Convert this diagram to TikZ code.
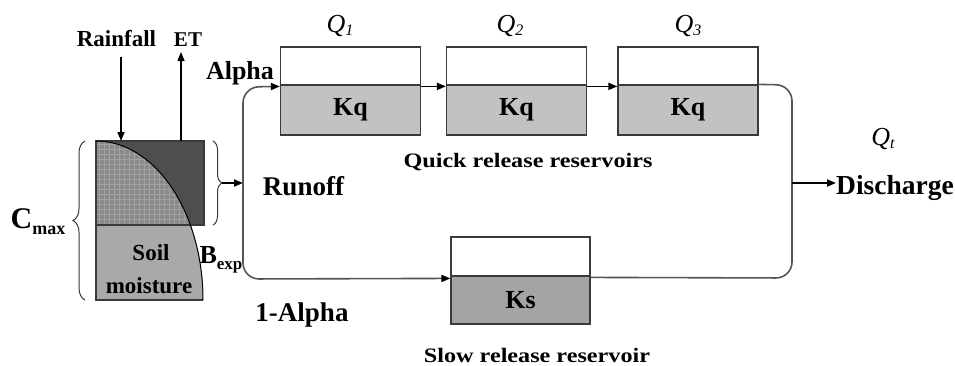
\documentclass[tikz,border=0pt]{standalone}
\usepackage{fontspec}
\setmainfont{Liberation Serif}
\usetikzlibrary{arrows.meta,decorations.pathreplacing,calc}
\definecolor{boxline}{HTML}{3A3A3A}
\definecolor{connline}{HTML}{555555}
\definecolor{kqfill}{HTML}{C2C2C2}
\definecolor{ksfill}{HTML}{A4A4A4}
\definecolor{darkfill}{HTML}{4E4E4E}
\definecolor{hatchfill}{HTML}{8A8A8A}
\definecolor{gridline}{HTML}{A2A2A2}
\definecolor{soilfill}{HTML}{A9A9A9}
\begin{document}
\begin{tikzpicture}[x=1pt,y=1pt,
  tophalf/.style={draw=boxline, fill=white, line width=1.2pt, minimum width=140pt, minimum height=38pt, inner sep=0pt},
  lowhalf/.style={draw=boxline, fill=kqfill, line width=1.2pt, minimum width=140pt, minimum height=50pt, inner sep=0pt, font=\fontsize{26}{30}\selectfont\bfseries},
  lbl/.style={anchor=base, inner sep=0pt, font=\fontsize{27}{32}\selectfont\bfseries},
  qlbl/.style={anchor=base, inner sep=0pt, font=\fontsize{26}{30}\selectfont\itshape},
  arr/.style={-{Triangle[length=9pt,width=7pt,color=black]}},
  conn/.style={draw=connline, line width=1.6pt},
  blk/.style={draw=black, line width=1.8pt},
  bracestyle/.style={draw=boxline, line width=1pt, decorate}
]
\useasboundingbox (0,0) rectangle (955,-365);
\fill[white] (0,0) rectangle (955,-365);

% ---- soil moisture reservoir ----
\fill[darkfill] (96,-141) rectangle (204,-225);
\begin{scope}
  \clip (96,-141) arc[start angle=90,end angle=0,x radius=107,y radius=159] -- (96,-300) -- cycle;
  \fill[hatchfill] (96,-141) rectangle (204,-225);
  \foreach \k in {3,8,...,108} \draw[gridline, line width=0.6pt] ({96+\k},-141) -- ({96+\k},-225);
  \foreach \k in {3,8,...,84} \draw[gridline, line width=0.6pt] (96,{-141-\k}) -- (204,{-141-\k});
  \fill[soilfill] (96,-225) rectangle (204,-300);
\end{scope}
\draw[boxline, line width=1.2pt] (96,-141) rectangle (204,-225);
\draw[boxline, line width=1.2pt] (96,-225) -- (96,-300) -- (203,-300);
\draw[black, line width=1pt] (96,-141) arc[start angle=90,end angle=0,x radius=107,y radius=159];

\node[anchor=base, inner sep=0pt, font=\fontsize{23}{27}\selectfont\bfseries] (soil1) at (151,-260) {Soil};
\node[anchor=base, inner sep=0pt, font=\fontsize{23}{27}\selectfont\bfseries] (soil2) at (149,-293) {moisture};

% braces
\draw[bracestyle, decoration={brace, amplitude=12pt}] (85,-300) -- (85,-141);
\draw[bracestyle, decoration={brace, amplitude=9pt}] (213,-141) -- (213,-225);
\node[anchor=base, inner sep=0pt] (cmax) at (38,-228) {\fontsize{30}{34}\selectfont\bfseries C\raisebox{-6pt}{\fontsize{18}{20}\selectfont max}};
\node[anchor=base, inner sep=0pt] (bexp) at (221,-263) {\fontsize{26}{30}\selectfont\bfseries B\raisebox{-6pt}{\fontsize{17}{20}\selectfont exp}};

% rainfall / ET
\node[anchor=base, inner sep=0pt, font=\fontsize{23}{27}\selectfont\bfseries] (rain) at (116.5,-46) {Rainfall};
\node[anchor=base, inner sep=0pt, font=\fontsize{21}{25}\selectfont\bfseries] (et) at (188,-46) {ET};
\coordinate (raintop) at (121,-57);
\coordinate (rainin) at (121,-141);
\coordinate (etout) at (181,-141);
\coordinate (ettop) at (181,-52);
\draw[blk, line width=1.4pt, arr] (raintop) -- (rainin);
\draw[blk, line width=1.4pt, arr] (etout) -- (ettop);

% ---- quick reservoirs ----
\node[tophalf] (q1up) at (350.5,-66) {};
\node[lowhalf] (q1lo) at (350.5,-110) {Kq};
\node[tophalf] (q2up) at (516.5,-66) {};
\node[lowhalf] (q2lo) at (516.5,-110) {Kq};
\node[tophalf] (q3up) at (688,-66) {};
\node[lowhalf] (q3lo) at (688,-110) {Kq};

\node[qlbl] (Q1) at (340,-32) {Q\raisebox{-3pt}{\fontsize{16}{18}\selectfont 1}};
\node[qlbl] (Q2) at (510,-32) {Q\raisebox{-3pt}{\fontsize{16}{18}\selectfont 2}};
\node[qlbl] (Q3) at (688,-32) {Q\raisebox{-3pt}{\fontsize{16}{18}\selectfont 3}};
\node[qlbl] (Qt) at (883,-145) {Q\raisebox{-3pt}{\fontsize{16}{18}\selectfont t}};

\node[anchor=base, inner sep=0pt, font=\fontsize{20.5}{24}\selectfont\bfseries\addfontfeature{FakeStretch=1.18}] (quick) at (528,-167) {Quick release reservoirs};

% ---- slow reservoir ----
\node[tophalf, minimum height=39pt, minimum width=139pt] (ksup) at (520.5,-256.5) {};
\node[lowhalf, fill=ksfill, minimum height=48pt, minimum width=139pt] (kslo) at (520.5,-300) {Ks};
\node[anchor=base, inner sep=0pt, font=\fontsize{20.5}{24}\selectfont\bfseries\addfontfeature{FakeStretch=1.18}] (slow) at (537,-362) {Slow release reservoir};

% ---- labels ----
\node[lbl, font=\fontsize{26}{30}\selectfont\bfseries] (alpha) at (240,-79) {Alpha};
\node[lbl] (runoff) at (303.5,-195) {Runoff};
\node[lbl] (oneal) at (302,-321) {1-Alpha};
\node[lbl, font=\fontsize{27.5}{32}\selectfont\bfseries] (dis) at (895,-194) {Discharge};

% ---- connectors ----
\coordinate (bracetip) at (222,-183);
\coordinate (junL) at (243,-183);
\coordinate (junR) at (792,-183);
\draw[blk, arr] (bracetip) -- (junL);
\draw[conn, arr, rounded corners=16pt] (junL) -- (243,-87) -- ($(q1lo.north west)+(0,-2)$);
\draw[conn, arr, rounded corners=16pt] (junL) -- (243,-279) -- ($(kslo.north west)+(0,-3)$);
\draw[blk, arr] ($(q1lo.north east)+(0,-2)$) -- ($(q2lo.north west)+(0,-2)$);
\draw[blk, arr] ($(q2lo.north east)+(0,-2)$) -- ($(q3lo.north west)+(0,-2)$);
\draw[conn, rounded corners=16pt] (q3lo.north east) -- (792,-85) -- (792,-278) -- ($(kslo.north east)+(0,-2)$);
\draw[blk, arr] (junR) -- (dis.west |- junR);
\end{tikzpicture}
\end{document}
